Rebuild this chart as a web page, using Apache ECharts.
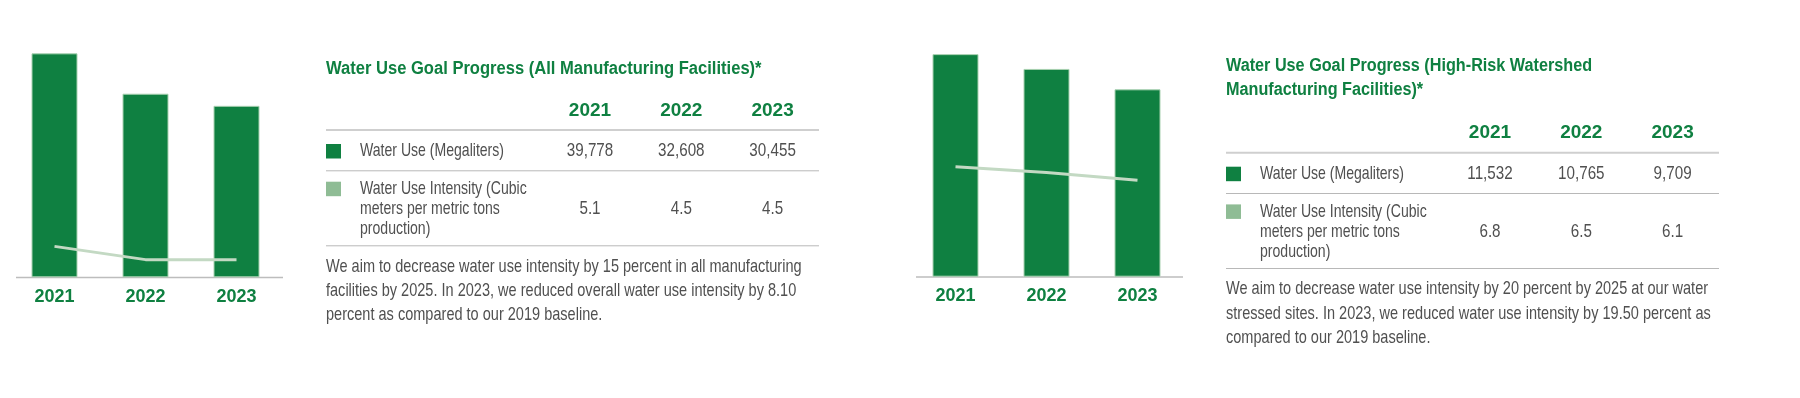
<!DOCTYPE html>
<html lang="en">
<head>
<meta charset="UTF-8">
<title>Water Use Goal Progress</title>
<script src="https://cdn.jsdelivr.net/npm/echarts@6/dist/echarts.min.js"></script>
<style>
    html, body { margin: 0; padding: 0; background: #fff; }
    #main { width: 1800px; height: 398px; }
</style>
</head>
<body>
<div id="main"></div>

<script type="text/javascript">
    // data
    var years = ['2021', '2022', '2023'];
    var allUse = [39778, 32608, 30455];          // megaliters, all facilities
    var allIntensity = [5.1, 4.5, 4.5];          // m3 per metric ton
    var riskUse = [11532, 10765, 9709];          // megaliters, high-risk watershed
    var riskIntensity = [6.8, 6.5, 6.1];

    var titles = [
        ['Water Use Goal Progress (All Manufacturing Facilities)*'],
        ['Water Use Goal Progress (High-Risk Watershed', 'Manufacturing Facilities)*']
    ];
    var useLabel = ['Water Use (Megaliters)'];
    var intensityLabel = ['Water Use Intensity (Cubic', 'meters per metric tons', 'production)'];
    var notes = [
        ['We aim to decrease water use intensity by 15 percent in all manufacturing',
         'facilities by 2025. In 2023, we reduced overall water use intensity by 8.10',
         'percent as compared to our 2019 baseline.'],
        ['We aim to decrease water use intensity by 20 percent by 2025 at our water',
         'stressed sites. In 2023, we reduced water use intensity by 19.50 percent as',
         'compared to our 2019 baseline.']
    ];

    var GREEN = '#0f8041', LIGHT = '#8fbc95', LINE = '#c3d9c3', GREY = '#505050';
    var FONT = '"Liberation Sans", Arial, sans-serif';

    // text helper, scaleX squeezes Arial metrics to look condensed
    function txt(x, y, s, o) {
        o = o || {};
        var align = o.align || 'left';
        return {
            type: 'text', x: x, y: y, scaleX: o.sx || 1, silent: true,
            style: {
                text: s, x: 0, y: 0, fill: o.color || GREY,
                font: (o.bold ? 'bold ' : '') + (o.size || 19) + 'px ' + FONT,
                align: align, verticalAlign: 'middle',
                textAlign: align, textVerticalAlign: 'middle'
            }
        };
    }
    function hline(x1, x2, y, color, w) {
        return { type: 'line', silent: true, shape: { x1: x1, y1: y, x2: x2, y2: y },
                 style: { stroke: color, lineWidth: w } };
    }
    function box(x, y, w, h, color) {
        return { type: 'rect', silent: true, shape: { x: x, y: y, width: w, height: h }, style: { fill: color } };
    }

    function table(x0, titleY, Y, title, use, intensity, note, titleScale) {
        var g = [];
        var cols = [264, 355.3, 446.6];
        title.forEach(function (t, i) {
            g.push(txt(x0, titleY + i * 23.7, t, { bold: true, size: 18, color: GREEN, sx: titleScale }));
        });
        years.forEach(function (yr, i) {
            g.push(txt(x0 + cols[i], Y + 7, yr, { bold: true, size: 19, color: GREEN, align: 'center' }));
        });
        g.push(hline(x0, x0 + 493, Y + 26.7, '#cfcfcf', 2));
        g.push(hline(x0, x0 + 493, Y + 67.5, '#b8b8b8', 1));
        g.push(hline(x0, x0 + 493, Y + 142.5, '#b8b8b8', 1));
        g.push(box(x0, Y + 40.7, 15, 14.5, GREEN));
        g.push(box(x0, Y + 78.4, 15, 14.5, LIGHT));
        g.push(txt(x0 + 34, Y + 47.3, useLabel[0], { sx: 0.74 }));
        intensityLabel.forEach(function (t, i) {
            g.push(txt(x0 + 34, Y + 85.5 + 20 * i, t, { sx: 0.74 }));
        });
        use.forEach(function (v, i) {
            g.push(txt(x0 + cols[i], Y + 47.3, v.toLocaleString('en-US'), { align: 'center', sx: 0.8 }));
        });
        intensity.forEach(function (v, i) {
            g.push(txt(x0 + cols[i], Y + 105.5, v.toFixed(1), { align: 'center', sx: 0.8 }));
        });
        note.forEach(function (t, i) {
            g.push(txt(x0, Y + 163.2 + 24.2 * i, t, { sx: 0.765 }));
        });
        return g;
    }

    var graphics = []
        .concat(table(326, 69, 103.3, titles[0], allUse, allIntensity, notes[0], 0.92))
        .concat(table(1226, 66.3, 126, titles[1], riskUse, riskIntensity, notes[1], 0.9))
        .concat([hline(16, 283, 277.5, '#bdbdbd', 1.5), hline(916, 1183, 277, '#bdbdbd', 1.5)]);

    function xAx(idx) {
        return {
            type: 'category', gridIndex: idx, data: years,
            axisLine: { show: false }, axisTick: { show: false }, splitLine: { show: false },
            axisLabel: { color: GREEN, fontWeight: 'bold', fontSize: 18, fontFamily: FONT, margin: 10.5 }
        };
    }
    function yAx(idx, min, max) {
        return { type: 'value', gridIndex: idx, min: min, max: max, show: false, splitLine: { show: false } };
    }
    function bars(idx, data) {
        return {
            type: 'bar', xAxisIndex: idx, yAxisIndex: idx * 2, data: data, barWidth: 46,
            itemStyle: { color: GREEN, borderColor: '#a9d1b1', borderWidth: 1 }
        };
    }
    function trend(idx, data) {
        return {
            type: 'line', xAxisIndex: idx, yAxisIndex: idx * 2 + 1, data: data, z: 5,
            symbol: 'none', lineStyle: { color: LINE, width: 3 }
        };
    }

    var myChart = echarts.init(document.getElementById('main'));
    myChart.setOption({
        animation: false,
        grid: [
            { left: 9, top: 52.1, width: 273, height: 225.2 },
            { left: 910, top: 45.1, width: 273, height: 231.6 }
        ],
        xAxis: [xAx(0), xAx(1)],
        yAxis: [yAx(0, 0, 40000), yAx(0, 3.7, 13.9), yAx(1, 0, 12000), yAx(1, 1.15, 13.05)],
        series: [bars(0, allUse), trend(0, allIntensity), bars(1, riskUse), trend(1, riskIntensity)],
        graphic: graphics
    });
</script>
</body>
</html>
